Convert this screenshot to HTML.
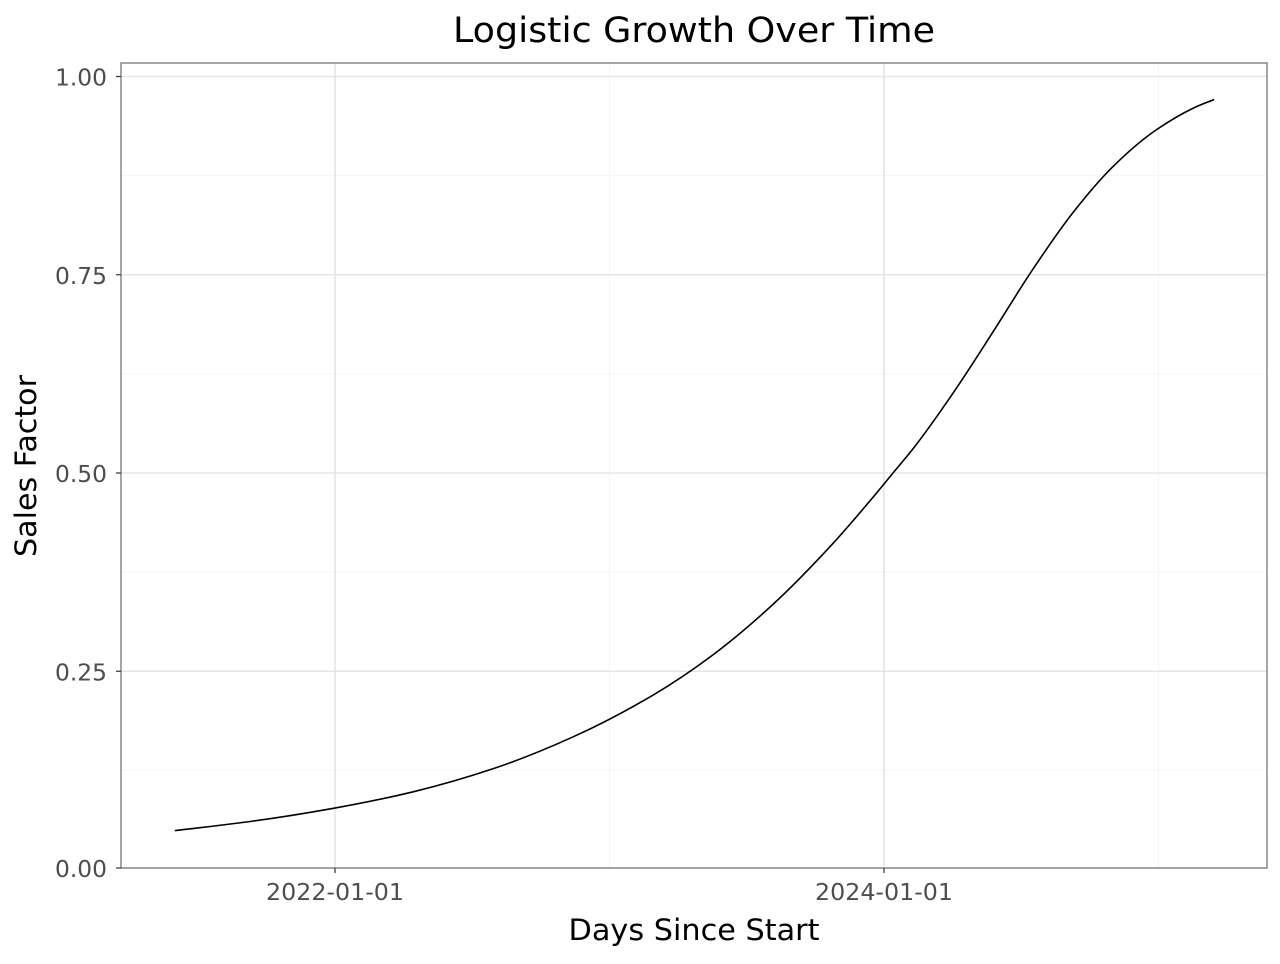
<!DOCTYPE html>
<html><head><meta charset="utf-8"><style>
body{margin:0;background:#fff;font-family:"DejaVu Sans","Liberation Sans",sans-serif}
svg text{font-family:"DejaVu Sans","Liberation Sans",sans-serif}
</style></head><body>
<svg id="chart" width="1280" height="960" xmlns="http://www.w3.org/2000/svg">
<rect width="1280" height="960" fill="#fff"/>
<g id="grid"></g>
<path id="curve" fill="none" stroke="#000" stroke-width="1.6"/>
<rect x="121" y="63" width="1146" height="805" fill="none" stroke="#7f7f7f" stroke-width="1.4"/>
<g id="axes"></g>
<text x="694" y="42" text-anchor="middle" font-size="35" textLength="482" lengthAdjust="spacingAndGlyphs" fill="#000">Logistic Growth Over Time</text>
<text x="694" y="940" text-anchor="middle" font-size="29" textLength="251" lengthAdjust="spacingAndGlyphs" fill="#000">Days Since Start</text>
<text transform="translate(36,466) rotate(-90)" text-anchor="middle" font-size="29" textLength="182" lengthAdjust="spacingAndGlyphs" fill="#000">Sales Factor</text>
</svg>
<script>
// days since 2022-01-01
const days = [-213, -109, -3, 104, 210, 316, 423, 503, 582, 662, 715, 742, 769, 822, 875, 928, 981, 1033, 1088, 1141, 1169];
const sales = [0.049, 0.061, 0.077, 0.098, 0.127, 0.167, 0.220, 0.271, 0.334, 0.411, 0.469, 0.500, 0.531, 0.601, 0.678, 0.757, 0.828, 0.885, 0.930, 0.960, 0.971];
const xTicks = [0, 730];
const xTickLabels = ['2022-01-01', '2024-01-01'];
const xMinor = [-365, 365, 1095];
const yTicks = [0, 0.25, 0.5, 0.75, 1.0];
const yTickLabels = ['0.00', '0.25', '0.50', '0.75', '1.00'];
const yMinor = [0.125, 0.375, 0.625, 0.875];

const NS = 'http://www.w3.org/2000/svg';
const X = d => 335 + d * (549 / 730);
const Y = v => 869.5 - v * 793;
const grid = document.getElementById('grid'), axes = document.getElementById('axes');
function el(tag, attrs, parent) {
  const e = document.createElementNS(NS, tag);
  for (const k in attrs) e.setAttribute(k, attrs[k]);
  parent.appendChild(e); return e;
}
yMinor.forEach(v => {
  const l = el('line', {x1: 121, x2: 1267, y1: Y(v), y2: Y(v), stroke: '#f2f2f2', 'stroke-width': 0.8}, grid);
  
  
});
xMinor.forEach(d => {
  if (X(d) < 121 || X(d) > 1267) return;
  const l = el('line', {x1: X(d), x2: X(d), y1: 63, y2: 868, stroke: '#f2f2f2', 'stroke-width': 0.8}, grid);
  
  
});
yTicks.forEach((v, i) => {
  const yy = Math.min(Y(v), 868);
  const l = el('line', {x1: 121, x2: 1267, y1: yy, y2: yy, stroke: '#e5e5e5', 'stroke-width': 1.6}, grid);
  
  
  const t = el('line', {x1: 116, x2: 121, y1: yy, y2: yy, stroke: '#333', 'stroke-width': 1.2}, axes);
  
  
  const tx = el('text', {x: 107, y: yy + 9, 'text-anchor': 'end', 'font-size': 23, textLength: 52, lengthAdjust: 'spacingAndGlyphs', fill: '#4d4d4d'}, axes);
  tx.textContent = yTickLabels[i];
  
  
});
xTicks.forEach((d, i) => {
  const l = el('line', {x1: X(d), x2: X(d), y1: 63, y2: 868, stroke: '#e5e5e5', 'stroke-width': 1.6}, grid);
  
  
  const t = el('line', {x1: X(d), x2: X(d), y1: 868, y2: 873, stroke: '#333', 'stroke-width': 1.2}, axes);
  
  
  const tx = el('text', {x: X(d), y: 900, 'text-anchor': 'middle', 'font-size': 23, textLength: 138, lengthAdjust: 'spacingAndGlyphs', fill: '#4d4d4d'}, axes);
  tx.textContent = xTickLabels[i];
  
  
});
// monotone cubic (Fritsch-Carlson)
const px = days.map(X), py = sales.map(Y), n = px.length;
const dx = [], m = [];
for (let i = 0; i < n - 1; i++) { dx.push(px[i+1]-px[i]); m.push((py[i+1]-py[i])/dx[i]); }
const t = [m[0]];
for (let i = 1; i < n - 1; i++) t.push(m[i-1]*m[i] <= 0 ? 0 : (dx[i-1]+dx[i]) * 3 / ((2*dx[i]+dx[i-1])/m[i-1] + (dx[i]+2*dx[i-1])/m[i]));
t.push(m[n-2]);
let p = 'M' + px[0] + ',' + py[0];
for (let i = 0; i < n - 1; i++) {
  const h = dx[i] / 3;
  p += ' C' + (px[i]+h) + ',' + (py[i]+t[i]*h) + ' ' + (px[i+1]-h) + ',' + (py[i+1]-t[i+1]*h) + ' ' + px[i+1] + ',' + py[i+1];
}
document.getElementById('curve').setAttribute('d', p);
</script>
</body></html>
